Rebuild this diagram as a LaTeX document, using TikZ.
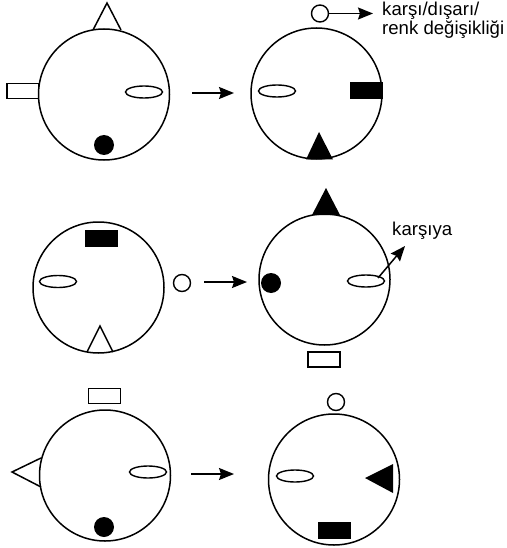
\documentclass[tikz,border=0pt]{standalone}
\usepackage{fontspec}
\setmainfont{Liberation Sans}
\usetikzlibrary{shapes.geometric,arrows.meta}
\begin{document}
\begin{tikzpicture}[x=1pt,y=-1pt,
  lw/.style={line width=1.5pt},
  big/.style={circle,draw,lw,minimum size=131pt,inner sep=0pt},
  oval/.style={ellipse,draw,line width=1.4pt,minimum width=37pt,minimum height=12pt,inner sep=0pt},
  dot/.style={circle,fill=black,minimum size=20pt,inner sep=0pt},
  ring/.style={circle,draw,line width=1.4pt,minimum size=17pt,inner sep=0pt},
  wbox/.style={rectangle,draw,line width=1.4pt,minimum width=32pt,minimum height=15pt,inner sep=0pt},
  bbox/.style={rectangle,fill=black,minimum width=33pt,minimum height=17pt,inner sep=0pt},
  arr/.style={line width=1.5pt,-{Stealth[length=15pt,width=12pt,inset=2pt]}},
  lbl/.style={font=\fontsize{18.6}{18.5}\selectfont,inner sep=0pt,align=left}
]
\useasboundingbox (0,0) rectangle (506,548);

% ---- Row 1, left
\draw[lw,fill=white] (93,30) -- (107,3) -- (121,30);
\node[wbox,fill=white] (r1) at (23,91) {};
\node[big,fill=white] (c1) at (104,94.5) {};
\node[oval] (e1) at (144,92) {};
\node[dot] (d1) at (104,145) {};
\coordinate (a1s) at (192,93);
\coordinate (a1e) at (234,93);
\draw[arr] (a1s) -- (a1e);

% ---- Row 1, right
\node[big] (c2) at (316.5,93.5) {};
\node[oval] (e2) at (277,91) {};
\node[bbox,anchor=east] (b2) at (383,91) {};
\fill (306,159.5) -- (319,132) -- (333,159.5) -- cycle;
\node[ring] (s2) at (320,13.5) {};
\coordinate (t2) at (373,13.5);
\draw[arr] (s2.east) -- (t2);
\node[lbl,anchor=north west] (l2) at (382,2) {karşı/dışarı/\\renk değişikliği};

% ---- Row 2, left
\node[big] (c3) at (98.5,287.5) {};
\draw[lw] (87,352) -- (100,326) -- (113,352);
\node[bbox] (b3) at (101,238.5) {};
\node[oval] (e3) at (58,281.5) {};
\node[ring] (s3) at (182,283) {};
\coordinate (a2s) at (204,282);
\coordinate (a2e) at (247,282);
\draw[arr] (a2s) -- (a2e);

% ---- Row 2, right
\fill (312,215) -- (326,188) -- (340,215) -- cycle;
\node[big] (c4) at (324.5,279.5) {};
\node[dot] (d4) at (271,283) {};
\node[oval] (e4) at (366,281) {};
\node[wbox] (r4) at (324,359.5) {};
\coordinate (k4s) at (378,278);
\coordinate (k4e) at (405,246);
\draw[arr] (k4s) -- (k4e);
\node[lbl,anchor=base west] (l4) at (392,235) {karşıya};

% ---- Row 3, left
\draw[lw,fill=white] (41,458) -- (12,472) -- (41,487);
\node[big] (c5) at (105,475.5) {};
\node[wbox] (r5) at (104.5,396) {};
\node[oval] (e5) at (148,472) {};
\node[dot] (d5) at (104,527) {};
\coordinate (a3s) at (191,474);
\coordinate (a3e) at (234,474);
\draw[arr] (a3s) -- (a3e);

% ---- Row 3, right
\node[big] (c6) at (334,479.5) {};
\node[ring] (s6) at (336,402) {};
\node[oval] (e6) at (295,476) {};
\fill (393,464) -- (365,478) -- (393,493) -- cycle;
\node[bbox] (b6) at (334.5,530.5) {};
\end{tikzpicture}
\end{document}
